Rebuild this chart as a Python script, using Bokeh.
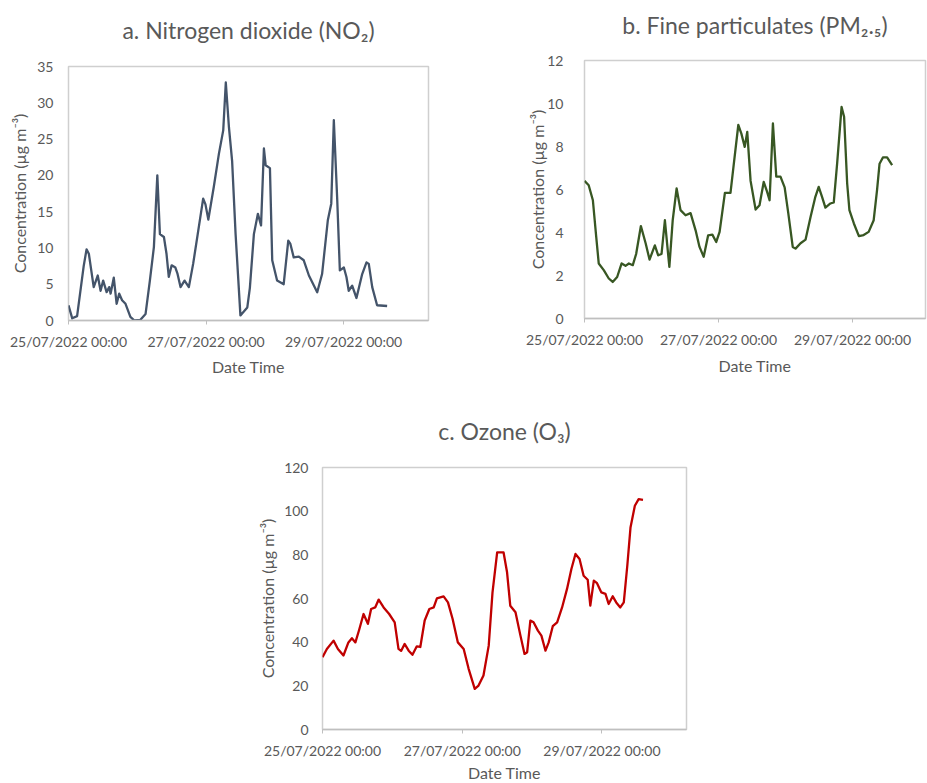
import pandas as pd
from bokeh.plotting import figure
from bokeh.models import Range1d, FixedTicker, DatetimeTickFormatter, Spacer, Title
from bokeh.layouts import row, column
from bokeh.embed import file_html
from bokeh.resources import INLINE

# ---------------- data (hours since 25/07/2022 00:00) ----------------
start_time = "2022-07-25 00:00"
tick_dates = ["2022-07-25", "2022-07-27", "2022-07-29"]

no2_hours = [0, 1.3, 3, 5.3, 6.3, 7.1, 8.8, 10.2, 11.2, 12.1, 13.3, 14.2, 14.7, 15.8, 16.8,
             17.7, 18.7, 19.9, 21.6, 23, 25.1, 26.9, 28.4, 29.8, 31, 31.9, 33.3, 34.2, 35,
             36, 37.3, 38, 39.1, 40.5, 42, 43.5, 45.1, 47, 47.8, 48.8, 50.7, 52.5, 54, 54.9,
             56, 57.1, 58.3, 60, 62.4, 63.3, 64.7, 66.1, 67.2, 68.2, 68.8, 70.3, 71.1, 72.8,
             75.1, 76.7, 77.4, 78.6, 80.4, 82.1, 83.9, 86.8, 88.5, 90.5, 91.7, 92.6, 93.8,
             94.7, 96.1, 97, 97.8, 99, 100.5, 102.5, 104, 104.8, 106, 107.7, 111.2]
no2_values = [2.1, 0.3, 0.6, 7.5, 9.8, 9.2, 4.6, 6.2, 4.1, 5.5, 3.9, 4.6, 3.7, 5.9, 2.3,
              3.7, 2.8, 2.3, 0.5, 0.0, 0.1, 0.9, 5.5, 10.1, 20.0, 11.9, 11.5, 9.2, 6.0,
              7.6, 7.3, 6.5, 4.6, 5.5, 4.6, 7.8, 11.9, 16.8, 16.0, 13.9, 18.4, 23.0, 26.2, 32.8,
              26.6, 22.0, 12.0, 0.7, 1.8, 4.5, 11.9, 14.7, 13.1, 23.7, 21.4, 21.0, 8.3, 5.5,
              5.0, 11.0, 10.6, 8.7, 8.8, 8.3, 6.2, 3.9, 6.4, 13.8, 16.1, 27.6, 16.5,
              6.9, 7.3, 6.0, 4.1, 4.8, 3.1, 6.4, 8.0, 7.8, 4.6, 2.1, 2.0]

pm25_hours = [0, 1.5, 3, 4.2, 5.1, 6.9, 8.7, 10.1, 11.7, 13.3, 14.7, 15.9, 17.3, 18.5, 20.2,
              21.9, 23.3, 25.2, 26.4, 27.6, 28.8, 29.8, 30.4, 31.6, 33, 34.4, 36.2, 38, 39.8,
              41.2, 42.7, 44.3, 45.8, 47.2, 48.4, 50.3, 52.3, 53.5, 55.1, 56.2, 57.4, 58.3,
              59.5, 61.3, 62.7, 64.2, 65.4, 66.3, 67.5, 68.7, 70.2, 71.7, 73, 74.6, 75.6,
              77.4, 79.2, 81, 82.7, 83.9, 85.1, 86.3, 88.1, 89.3, 90.5, 92.1, 93, 94.1, 94.9,
              96.5, 98.3, 100, 101.8, 103.6, 104.8, 105.7, 106.9, 108.4, 110.2]
pm25_values = [6.4, 6.2, 5.5, 3.8, 2.56, 2.25, 1.86, 1.7, 1.93, 2.56, 2.45, 2.56, 2.48, 3.0, 4.3,
               3.5, 2.74, 3.4, 2.94, 3.0, 4.57, 3.2, 2.4, 4.57, 6.05, 5.04, 4.8, 4.9, 4.1,
               3.33, 2.87, 3.87, 3.9, 3.56, 4.03, 5.84, 5.84, 7.2, 9.0, 8.6, 7.98, 8.68,
               6.4, 5.07, 5.27, 6.35, 5.9, 5.5, 9.07, 6.6, 6.6, 6.1, 4.9, 3.33, 3.25,
               3.5, 3.67, 4.73, 5.66, 6.12, 5.66, 5.16, 5.35, 5.4, 7.2, 9.84, 9.38, 6.28, 5.04,
               4.42, 3.83, 3.88, 4.03, 4.57, 5.97, 7.2, 7.49, 7.49, 7.13]

o3_hours = [0, 1.5, 3.8, 5.3, 7.2, 8.9, 10.1, 11.3, 12.6, 14.1, 15.6, 16.7, 18.1, 19.3, 21,
            22.9, 24.8, 26.1, 27, 28.2, 29.6, 30.9, 32.4, 33.6, 35.1, 36.7, 38.2, 39.3, 41.6,
            43.1, 44.7, 46.5, 48.5, 50.2, 52.3, 53.6, 55.3, 57.1, 58.4, 60, 62.2, 63.4, 64.5,
            66.3, 68, 69.4, 70.3, 71.4, 72.5, 74, 75.2, 76.6, 77.7, 79.1, 80.6, 82.3, 84,
            85.5, 86.9, 88.3, 89.7, 91.1, 92, 93.2, 94.3, 95.8, 97.2, 98.3, 99.7, 100.9,
            102.3, 103.5, 104.7, 105.8, 107.3, 108.6, 110.1]
o3_values = [33.1, 36.9, 40.7, 36.9, 33.9, 39.9, 41.8, 39.9, 45.7, 52.9, 48.4, 55.2, 55.9, 59.5, 55.9,
             52.9, 49.1, 36.9, 36.0, 39.2, 36.1, 34.2, 38.1, 37.8, 49.9, 55.2, 55.9, 60.1, 61.0,
             58.2, 50.6, 39.9, 36.9, 27.8, 18.6, 20.1, 24.7, 38.4, 62.8, 81.1, 81.1, 72.0, 56.7,
             53.7, 43.0, 34.6, 35.4, 49.9, 49.1, 45.3, 43.0, 36.1, 39.9, 47.3, 49.1, 55.9, 64.4,
             73.5, 80.4, 78.1, 70.4, 68.6, 56.7, 68.2, 67.0, 62.8, 62.1, 57.5, 61.0, 58.2,
             55.9, 58.2, 75.0, 92.5, 102.5, 105.5, 105.2]

FONT = "Lato"
TXT = "#595959"
base = pd.Timestamp(start_time)
tick_ms = [int(pd.Timestamp(d).value // 10**6) for d in tick_dates]
fmt = "%d/%m/%Y %H:%M"


def to_dt(hours):
    return base + pd.to_timedelta(hours, unit="h")


def make(title, hours, values, color, ymax, ystep, days_end, fw, fh,
         left, top, right, bottom, gap_px, ylab_standoff, ytick_standoff,
         xlab_standoff):
    p = figure(
        output_backend="svg", toolbar_location=None,
        x_axis_type="datetime",
        frame_width=fw, frame_height=fh,
        min_border_left=left, min_border_top=top,
        min_border_right=right, min_border_bottom=bottom,
        x_range=Range1d(base, base + pd.Timedelta(days=days_end)),
        y_range=Range1d(0, ymax),
    )
    p.line(to_dt(hours), values, line_color=color, line_width=2.3, line_join="round")
    # blank spacer title (closest to the frame) pushes the real title upward
    p.add_layout(Title(text=" ", text_font_size=f"{gap_px}px", standoff=0), "above")
    p.add_layout(Title(text=title, align="center", text_font=FONT,
                       text_font_size="23px", text_font_style="normal",
                       text_color=TXT), "above")
    p.outline_line_color = "#cfcfcf"
    p.outline_line_width = 1.5
    p.grid.visible = False
    p.background_fill_color = "white"
    p.border_fill_color = "white"

    xa = p.xaxis[0]
    xa.ticker = FixedTicker(ticks=tick_ms)
    xa.formatter = DatetimeTickFormatter(
        milliseconds=fmt, seconds=fmt, minsec=fmt, minutes=fmt, hourmin=fmt,
        hours=fmt, days=fmt, months=fmt, years=fmt)
    xa.axis_label = "Date Time"
    xa.axis_label_text_font = FONT
    xa.axis_label_text_font_size = "16px"
    xa.axis_label_text_font_style = "normal"
    xa.axis_label_text_color = TXT
    xa.axis_label_standoff = xlab_standoff
    xa.major_label_text_font = FONT
    xa.major_label_text_font_size = "14px"
    xa.major_label_text_color = TXT
    xa.major_label_standoff = 8
    xa.axis_line_color = "#bfbfbf"
    xa.axis_line_width = 1.5
    xa.major_tick_line_color = "#bfbfbf"
    xa.major_tick_in = 0
    xa.major_tick_out = 4
    xa.minor_tick_line_color = None

    ya = p.yaxis[0]
    ya.ticker = FixedTicker(ticks=list(range(0, ymax + 1, ystep)))
    ya.axis_label = "Concentration (µg m⁻³)"
    ya.axis_label_text_font = FONT
    ya.axis_label_text_font_size = "16px"
    ya.axis_label_text_font_style = "normal"
    ya.axis_label_text_color = TXT
    ya.axis_label_standoff = ylab_standoff
    ya.major_label_text_font = FONT
    ya.major_label_text_font_size = "14px"
    ya.major_label_text_color = TXT
    ya.major_label_standoff = ytick_standoff
    ya.axis_line_color = None
    ya.major_tick_line_color = None
    ya.major_tick_in = 0
    ya.major_tick_out = 0
    ya.minor_tick_line_color = None
    ya.minor_tick_in = 0
    ya.minor_tick_out = 0
    return p


pa = make("a. Nitrogen dioxide (NO₂)", no2_hours, no2_values, "#44546a", 35, 5, 5.235,
          360, 254, 68, 66, 42, 77, 14, 5, 15, 4)
pb = make("b. Fine particulates (PM₂.₅)", pm25_hours, pm25_values, "#385723", 12, 2, 5.09,
          341, 258, 114, 60, 2, 73, 13, -3, 21, 5)
pc = make("c. Ozone (O₃)", o3_hours, o3_values, "#c00000", 120, 20, 5.21,
          364, 262, 82, 70, 40, 53, 14, 4, 14, 1)

layout = column(row(pa, column(pb)), row(Spacer(width=240, height=10), pc))

open("out.html", "w").write(file_html(layout, INLINE))
